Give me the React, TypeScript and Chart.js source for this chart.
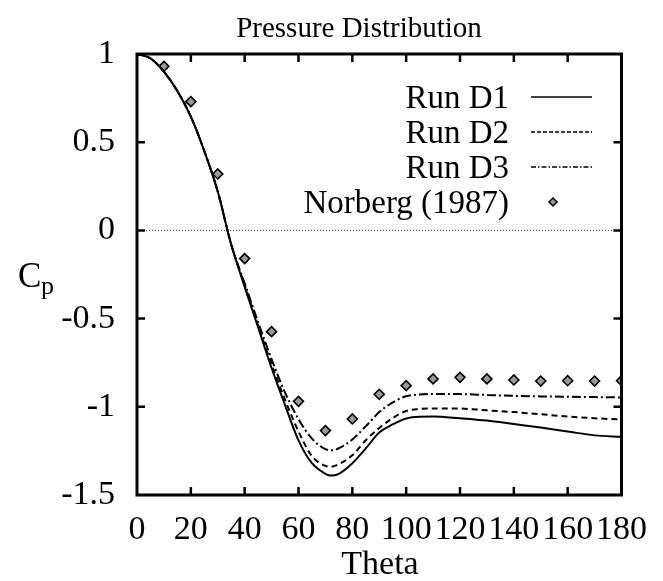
import React, { useEffect, useRef } from "react";
import { Chart, registerables } from "chart.js";

Chart.register(...registerables);

const chartTitle = "Pressure Distribution";
const xTitle = "Theta";
const yTitleMain = "C";
const yTitleSub = "p";

const runTheta = [0, 5, 10, 15, 20, 25, 30, 35, 40, 45, 50, 55, 60, 65, 70, 72, 75, 80, 85, 90, 95, 100, 105, 110, 120, 130, 140, 150, 160, 170, 180];
const runD1 = [1.0, 0.975, 0.9, 0.79, 0.645, 0.45, 0.22, -0.08, -0.32, -0.55, -0.78, -0.99, -1.19, -1.32, -1.38, -1.39, -1.38, -1.32, -1.236, -1.146, -1.1, -1.066, -1.056, -1.055, -1.065, -1.078, -1.098, -1.118, -1.14, -1.162, -1.17];
const runD2 = [1.0, 0.975, 0.9, 0.79, 0.645, 0.45, 0.22, -0.08, -0.31, -0.54, -0.76, -0.96, -1.14, -1.28, -1.335, -1.34, -1.325, -1.275, -1.19, -1.12, -1.064, -1.024, -1.012, -1.009, -1.01, -1.02, -1.03, -1.042, -1.055, -1.065, -1.072];
const runD3 = [1.0, 0.975, 0.9, 0.79, 0.645, 0.45, 0.22, -0.08, -0.3, -0.52, -0.73, -0.92, -1.07, -1.18, -1.24, -1.247, -1.235, -1.185, -1.11, -1.03, -0.975, -0.94, -0.93, -0.927, -0.928, -0.933, -0.938, -0.941, -0.943, -0.945, -0.947];

const norbergTheta = [10, 20, 30, 40, 50, 60, 70, 80, 90, 100, 110, 120, 130, 140, 150, 160, 170, 180];
const norbergCp = [0.93, 0.73, 0.32, -0.16, -0.574, -0.969, -1.135, -1.069, -0.929, -0.88, -0.842, -0.833, -0.842, -0.848, -0.854, -0.852, -0.854, -0.852];

const legendLabels = ["Run D1", "Run D2", "Run D3", "Norberg (1987)"];

const FONT = "'Liberation Serif', 'Times New Roman', serif";

const toXY = (xs: number[], ys: number[]) => xs.map((x, i) => ({ x, y: ys[i] }));

export default function App() {
  const canvasRef = useRef<HTMLCanvasElement | null>(null);

  useEffect(() => {
    const canvas = canvasRef.current;
    if (!canvas) return;

    const dashes: number[][] = [[], [6, 4], [9, 3, 2, 3]];

    const framePlugin = {
      id: "framePlugin",
      beforeDatasetsDraw(chart: any) {
        const { ctx, chartArea, scales } = chart;
        const y0 = scales.y.getPixelForValue(0);
        ctx.save();
        ctx.strokeStyle = "#444";
        ctx.lineWidth = 1;
        ctx.setLineDash([1, 2]);
        ctx.beginPath();
        ctx.moveTo(chartArea.left, y0);
        ctx.lineTo(chartArea.right, y0);
        ctx.stroke();
        ctx.restore();
      },
      afterDraw(chart: any) {
        const { ctx, chartArea, scales } = chart;
        const { left, right, top, bottom } = chartArea;
        ctx.save();
        ctx.strokeStyle = "#000";
        ctx.lineWidth = 3;
        ctx.setLineDash([]);
        ctx.strokeRect(left, top, right - left, bottom - top);
        // inward ticks
        ctx.lineWidth = 2.5;
        const tl = 8;
        scales.x.ticks.forEach((t: any) => {
          const px = scales.x.getPixelForValue(t.value);
          if (px <= left + 1 || px >= right - 1) return;
          ctx.beginPath();
          ctx.moveTo(px, bottom);
          ctx.lineTo(px, bottom - tl);
          ctx.moveTo(px, top);
          ctx.lineTo(px, top + tl);
          ctx.stroke();
        });
        scales.y.ticks.forEach((t: any) => {
          const py = scales.y.getPixelForValue(t.value);
          if (py <= top + 1 || py >= bottom - 1) return;
          ctx.beginPath();
          ctx.moveTo(left, py);
          ctx.lineTo(left + tl, py);
          ctx.moveTo(right, py);
          ctx.lineTo(right - tl, py);
          ctx.stroke();
        });

        // title
        ctx.fillStyle = "#000";
        ctx.font = `29px ${FONT}`;
        ctx.textAlign = "center";
        ctx.textBaseline = "alphabetic";
        ctx.fillText(chartTitle, 359, 37);

        // x title
        ctx.font = `34px ${FONT}`;
        ctx.fillText(xTitle, 380, 574);

        // y title C_p
        ctx.textAlign = "left";
        ctx.font = `35px ${FONT}`;
        ctx.fillText(yTitleMain, 18, 287);
        ctx.font = `26px ${FONT}`;
        ctx.fillText(yTitleSub, 41, 294);

        // legend
        ctx.font = `33px ${FONT}`;
        ctx.textAlign = "right";
        ctx.textBaseline = "middle";
        const rowY = [97, 132, 167, 202];
        legendLabels.forEach((lab, i) => {
          ctx.fillStyle = "#000";
          ctx.fillText(lab, 509, rowY[i] + 2);
          if (i < 3) {
            ctx.lineWidth = 1.3;
            ctx.setLineDash(i === 1 ? [4, 2] : i === 2 ? [5, 2, 1.5, 2] : []);
            ctx.beginPath();
            ctx.moveTo(531, rowY[i]);
            ctx.lineTo(592, rowY[i]);
            ctx.stroke();
            ctx.setLineDash([]);
          } else {
            const cx = 553, cy = rowY[i], r = 4;
            ctx.beginPath();
            ctx.moveTo(cx, cy - r);
            ctx.lineTo(cx + r, cy);
            ctx.lineTo(cx, cy + r);
            ctx.lineTo(cx - r, cy);
            ctx.closePath();
            ctx.fillStyle = "#999";
            ctx.fill();
            ctx.lineWidth = 1.5;
            ctx.stroke();
          }
        });
        ctx.restore();
      },
    };

    const lineDs = (label: string, ys: number[], i: number) => ({
      label,
      type: "line" as const,
      data: toXY(runTheta, ys),
      borderColor: "#000",
      backgroundColor: "#000",
      borderWidth: 2,
      borderDash: dashes[i],
      pointRadius: 0,
      cubicInterpolationMode: "monotone" as const,
      fill: false,
    });

    const chart = new Chart(canvas, {
      type: "line",
      data: {
        datasets: [
          lineDs(legendLabels[0], runD1, 0),
          lineDs(legendLabels[1], runD2, 1),
          lineDs(legendLabels[2], runD3, 2),
          {
            label: legendLabels[3],
            type: "scatter" as const,
            data: toXY(norbergTheta, norbergCp),
            showLine: false,
            pointStyle: "rectRot",
            pointRadius: 5,
            borderColor: "#000",
            backgroundColor: "#999",
            borderWidth: 1.6,
          } as any,
        ],
      },
      options: {
        animation: false,
        responsive: false,
        events: [],
        layout: { padding: { top: 54, right: 41.5, left: 0, bottom: 0 } },
        plugins: {
          legend: { display: false },
          title: { display: false },
          tooltip: { enabled: false },
        },
        scales: {
          x: {
            type: "linear",
            min: 0,
            max: 180,
            ticks: {
              stepSize: 20,
              color: "#000",
              font: { family: FONT, size: 34 },
              padding: 15,
              maxRotation: 0,
              autoSkip: false,
              callback: (v: any) => String(v),
            },
            grid: { display: false, drawTicks: false },
            border: { display: false },
            afterFit: (s: any) => {
              s.height = 86;
            },
          },
          y: {
            type: "linear",
            min: -1.5,
            max: 1,
            ticks: {
              stepSize: 0.5,
              color: "#000",
              font: { family: FONT, size: 34 },
              padding: 22,
              autoSkip: false,
              callback: (v: any) => String(v),
            },
            grid: { display: false, drawTicks: false },
            border: { display: false },
            afterFit: (s: any) => {
              s.width = 137;
            },
          },
        },
      },
      plugins: [framePlugin],
    });

    return () => chart.destroy();
  }, []);

  return (
    <div style={{ position: "absolute", left: 0, top: 0, width: 663, height: 581, background: "#fff" }}>
      <canvas ref={canvasRef} width={663} height={581} style={{ display: "block" }} />
    </div>
  );
}
